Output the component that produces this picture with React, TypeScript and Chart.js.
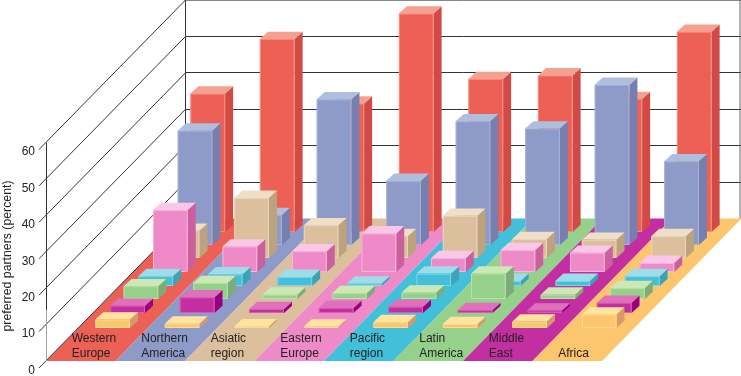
import React, { useEffect, useRef } from "react";
import { Chart, registerables } from "chart.js";

Chart.register(...registerables);

const categories: string[][] = [
  ["Western", "Europe"],
  ["Northern", "America"],
  ["Asiatic", "region"],
  ["Eastern", "Europe"],
  ["Pacific", "region"],
  ["Latin", "America"],
  ["Middle", "East"],
  ["", "Africa"],
];

const africa = [2.3, 1.2, 0.5, 0.4, 1.6, 1.1, 1.8, 3.7];
const middleEast = [2.0, 4.3, 1.1, 1.4, 1.7, 0.8, 0.7, 2.8];
const latinAmerica = [3.5, 4.4, 1.2, 1.6, 1.8, 7.0, 1.2, 3.0];
const pacificRegion = [2.7, 3.2, 2.5, 0.7, 3.4, 1.4, 1.4, 2.7];
const easternEurope = [17, 7, 5.7, 10.6, 3.8, 6, 5.3, 2.5];
const asiaticRegion = [7.5, 16.5, 9, 6, 11.6, 5.2, 5, 6];
const northernAmerica = [31.4, 8.2, 40, 17.6, 34, 32, 44, 23];
const westernEurope = [38, 53, 35.3, 60, 42, 43, 36.5, 55];

const yTicks = { min: 0, max: 60, step: 10 };

type Shade = { face: string; top: string; side: string };
const yellow: Shade = { face: "#fbc66d", top: "#fee49f", side: "#d9986a" };
const magenta: Shade = { face: "#c32fa0", top: "#e070bc", side: "#960080" };
const green: Shade = { face: "#96d18b", top: "#cbe8b5", side: "#7bac7a" };
const cyan: Shade = { face: "#42c0da", top: "#9dddea", side: "#3ba2b7" };
const pink: Shade = { face: "#ef8ac8", top: "#fbc7e6", side: "#cc5f9e" };
const tan: Shade = { face: "#dcbf9c", top: "#f0dfc7", side: "#bda27e" };
const blue: Shade = { face: "#8e9bc8", top: "#b0bedd", side: "#777eb0" };
const red: Shade = { face: "#ec6055", top: "#f6a090", side: "#d24a46" };

const seriesShades = [yellow, magenta, green, cyan, pink, tan, blue, red];
const bandShades = [red, blue, tan, pink, cyan, green, magenta, yellow];

const WIDTH = 741;
const HEIGHT = 376;
const FLOOR_DY = 142.5;
const FLOOR_DX = 139.5;
const ROW_DX = [31.9, 46.9, 60.2, 75, 89.6, 101.4, 114.3, 127];
const ROW_DY = [33, 48, 62, 75, 89, 103, 116, 129];
const BAR_DX = 8;
const BAR_DY = 7.3;
const LINE = "#333333";

const poly = (ctx: CanvasRenderingContext2D, pts: number[][], fill: string) => {
  ctx.beginPath();
  pts.forEach(([x, y], i) => (i ? ctx.lineTo(x, y) : ctx.moveTo(x, y)));
  ctx.closePath();
  ctx.fillStyle = fill;
  ctx.fill();
};

const seg = (ctx: CanvasRenderingContext2D, x1: number, y1: number, x2: number, y2: number, color: string) => {
  ctx.beginPath();
  ctx.moveTo(x1, y1);
  ctx.lineTo(x2, y2);
  ctx.strokeStyle = color;
  ctx.lineWidth = 1;
  ctx.stroke();
};

const box3d = {
  id: "box3d",
  beforeDraw(chart: any) {
    const { ctx, chartArea, scales } = chart;
    const { left, right, bottom } = chartArea;
    const y = scales.y;
    const bandW = (right - left) / categories.length;
    ctx.save();
    // floor bands
    bandShades.forEach((s, i) => {
      const a = left + bandW * i;
      poly(
        ctx,
        [
          [a, bottom],
          [a + bandW, bottom],
          [a + bandW + FLOOR_DX, bottom - FLOOR_DY],
          [a + FLOOR_DX, bottom - FLOOR_DY],
        ],
        s.face
      );
    });
    // walls
    const backL = Math.floor(left + FLOOR_DX) + 0.5;
    const backR = right + FLOOR_DX - 1.5;
    y.ticks.forEach((t: any) => {
      const py = y.getPixelForValue(t.value);
      seg(ctx, left - 7, py + 7, left + FLOOR_DX, py - FLOOR_DY, LINE);
      const by = py - FLOOR_DY;
      if (t.value > 0) {
        const ly = Math.round(by - 0.5) + 0.5;
        seg(ctx, backL, ly, backR + 1, ly, t.value === yTicks.max ? "#888888" : LINE);
      }
    });
    const top0 = y.getPixelForValue(yTicks.max);
    const floorY = bottom - FLOOR_DY;
    seg(ctx, backL, 0, backL, floorY, LINE);
    seg(ctx, backR, 0, backR, floorY, "#666666");
    seg(ctx, left + 0.5, top0, left + 0.5, 310, LINE);
    seg(ctx, left + 0.5, 310, left + 0.5, bottom, "#a0a0a0");
    // axis title
    ctx.translate(8, 256);
    ctx.rotate(-Math.PI / 2);
    ctx.font = "12.3px 'Liberation Sans'";
    ctx.fillStyle = "#222222";
    ctx.textAlign = "center";
    ctx.textBaseline = "middle";
    ctx.fillText("preferred partners (percent)", 0, 0);
    ctx.restore();
  },
  beforeDatasetDraw(chart: any, args: any) {
    const { ctx } = chart;
    const s = seriesShades[args.index];
    const dy = ROW_DY[args.index];
    const dx = ROW_DX[args.index];
    ctx.save();
    args.meta.data.forEach((el: any) => {
      const l = el.x - el.width / 2 + dx;
      const r = l + el.width;
      const t = el.y - dy;
      const b = el.base - dy;
      poly(ctx, [[r, t], [r + BAR_DX, t - BAR_DY], [r + BAR_DX, b - BAR_DY], [r, b]], s.side);
      poly(ctx, [[l, t], [l + BAR_DX, t - BAR_DY], [r + BAR_DX, t - BAR_DY], [r, t]], s.top);
      poly(ctx, [[l, t], [r, t], [r, b], [l, b]], s.face);
      ctx.beginPath();
      ctx.rect(l + 0.5, t + 0.5, el.width - 1, Math.max(b - t - 1, 0));
      ctx.strokeStyle = s.top;
      ctx.globalAlpha = 0.7;
      ctx.lineWidth = 1;
      ctx.stroke();
      ctx.globalAlpha = 1;
    });
    ctx.restore();
    return false;
  },
};

export default function App() {
  const ref = useRef<HTMLCanvasElement | null>(null);

  useEffect(() => {
    if (!ref.current) return;
    const values = [
      africa,
      middleEast,
      latinAmerica,
      pacificRegion,
      easternEurope,
      asiaticRegion,
      northernAmerica,
      westernEurope,
    ];
    const names = [
      "Africa",
      "Middle East",
      "Latin America",
      "Pacific region",
      "Eastern Europe",
      "Asiatic region",
      "Northern America",
      "Western Europe",
    ];
    const chart = new Chart(ref.current, {
      type: "bar",
      data: {
        labels: categories as any,
        datasets: values.map((data, i) => ({
          label: names[i],
          data,
          backgroundColor: seriesShades[i].face,
          grouped: false,
          barPercentage: 0.5,
          categoryPercentage: 1,
        })),
      },
      plugins: [box3d as any],
      options: {
        responsive: false,
        animation: false,
        layout: { padding: { left: 0, right: WIDTH - 602, top: 142.5, bottom: HEIGHT - 361 } },
        plugins: { legend: { display: false }, tooltip: { enabled: false }, title: { display: false } },
        scales: {
          x: {
            grid: { display: false, drawTicks: false },
            border: { display: false },
            afterFit: (s: any) => {
              s.height = 0;
              s.paddingLeft = 0;
              s.paddingRight = 0;
              s.paddingTop = 0;
              s.paddingBottom = 0;
            },
            ticks: {
              mirror: true,
              padding: 15,
              align: "start",
              labelOffset: -9,
              maxRotation: 0,
              minRotation: 0,
              autoSkip: false,
              color: "#222222",
              font: { family: "'Liberation Sans'", size: 12, lineHeight: 1.25 },
            },
          },
          y: {
            min: yTicks.min,
            max: yTicks.max,
            grid: { display: false, drawTicks: false },
            border: { display: false },
            afterFit: (s: any) => {
              s.width = 46;
              s.paddingLeft = 0;
              s.paddingRight = 0;
              s.paddingTop = 0;
              s.paddingBottom = 0;
            },
            ticks: {
              stepSize: yTicks.step,
              padding: 11,
              labelOffset: 9.5,
              color: "#222222",
              font: { family: "'Liberation Sans'", size: 12 },
            },
          },
        },
      },
    } as any);
    return () => chart.destroy();
  }, []);

  return (
    <div style={{ position: "absolute", left: 0, top: 0, width: WIDTH, height: HEIGHT }}>
      <canvas ref={ref} width={WIDTH} height={HEIGHT} style={{ display: "block" }} />
    </div>
  );
}
